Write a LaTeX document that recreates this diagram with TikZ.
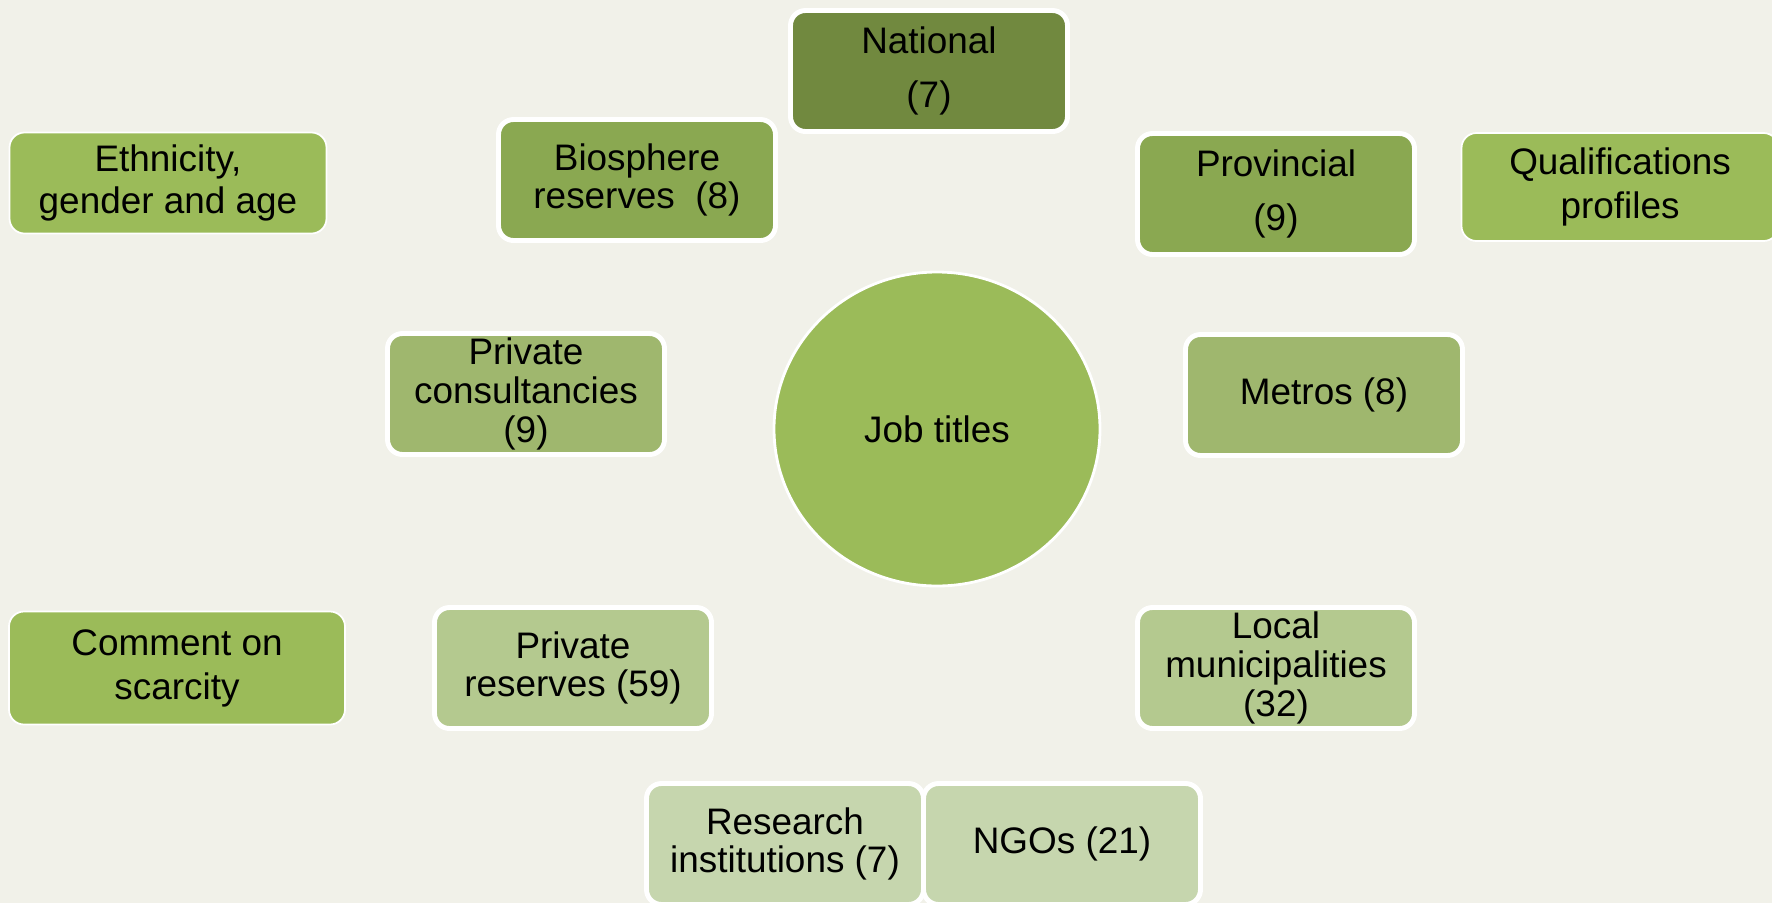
\documentclass[tikz,border=0pt]{standalone}
\usepackage{fontspec}
\setmainfont{Liberation Sans}
\usetikzlibrary{shapes.geometric}
\definecolor{bgcol}{HTML}{F1F1E9}
\definecolor{darkleaf}{HTML}{71893F}
\definecolor{midleaf}{HTML}{8AA851}
\definecolor{leaf}{HTML}{9BBB59}
\definecolor{softleaf}{HTML}{9FB76E}
\definecolor{paleleaf}{HTML}{B4C98F}
\definecolor{palestleaf}{HTML}{C6D6AE}
\tikzset{
  card/.style={rounded corners=0.15cm, draw=white, line width=1.4pt,
    minimum width=2.77cm, minimum height=1.21cm, inner sep=0pt,
    align=center, font=\fontsize{10.5}{11}\selectfont},
  sidecard/.style={card, line width=0.5pt, minimum width=3.17cm},
}
\begin{document}
\begin{tikzpicture}
        \useasboundingbox (0,0) rectangle (17.72,-9.03);
        \fill[bgcol] (0,0) rectangle (17.72,-9.03);
        \clip (0,0) rectangle (17.72,-9.03);
        %% centre
        \node[ellipse, draw=white, line width=0.8pt, fill=leaf, minimum width=3.26cm, minimum height=3.14cm, inner sep=0pt, font=\fontsize{10.5}{11}\selectfont] (job) at (9.37,-4.29) {Job titles};
        %% government
        \node[card, fill=darkleaf] (nat) at (9.29,-0.71) {National\\[4.3pt](7)};
        \node[card, fill=midleaf] (prov) at (12.76,-1.94) {Provincial\\[4.3pt](9)};
        \node[card, fill=softleaf] (metro) at (13.24,-3.95) {Metros (8)};
        \node[card, fill=paleleaf] (local) at (12.76,-6.68) {Local\\municipalities\\(32)};
        %% others
        \node[card, fill=midleaf] (bio) at (6.37,-1.80) {Biosphere\\reserves~~(8)};
        \node[card, fill=softleaf] (cons) at (5.26,-3.94) {Private\\consultancies\\(9)};
        \node[card, fill=paleleaf] (priv) at (5.73,-6.68) {Private\\reserves (59)};
        \node[card, fill=palestleaf] (res) at (7.85,-8.44) {Research\\institutions (7)};
        \node[card, fill=palestleaf] (ngo) at (10.62,-8.44) {NGOs (21)};
        %% side topics
        \node[sidecard, fill=leaf, minimum height=1.01cm, font=\fontsize{10.5}{12.2}\selectfont] (eth) at (1.68,-1.83) {Ethnicity,\\gender and age};
        \node[sidecard, fill=leaf, minimum height=1.08cm, font=\fontsize{10.5}{12.5}\selectfont] (qual) at (16.20,-1.87) {Qualifications\\profiles};
        \node[sidecard, fill=leaf, minimum width=3.36cm, minimum height=1.13cm, font=\fontsize{10.5}{12.5}\selectfont] (scar) at (1.77,-6.68) {Comment on\\scarcity};
    \end{tikzpicture}
\end{document}
